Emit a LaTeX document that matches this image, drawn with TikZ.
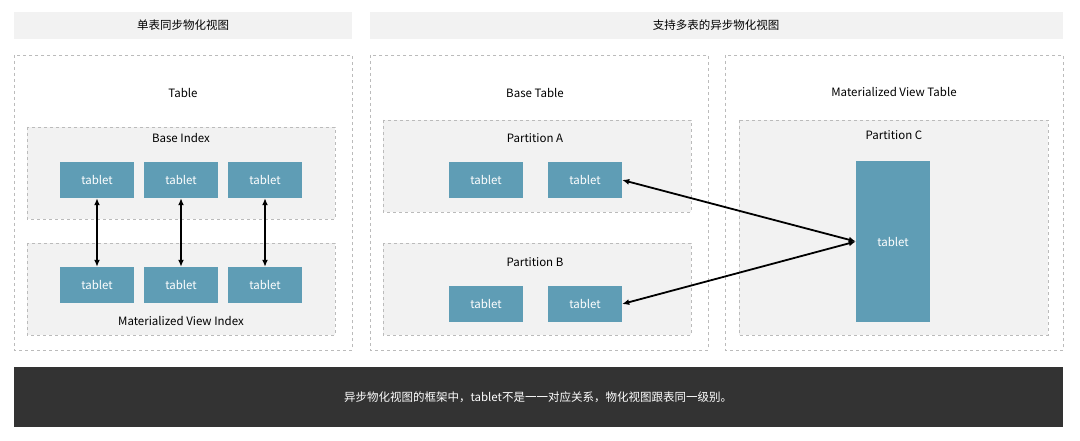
\documentclass[tikz,border=0pt]{standalone}
\usepackage{fontspec}
\setmainfont{Noto Sans CJK SC}
\usetikzlibrary{arrows.meta}
\definecolor{tab}{HTML}{5F9DB5}
\definecolor{lg}{HTML}{F2F2F2}
\definecolor{dk}{HTML}{333333}
\definecolor{dash}{HTML}{BBBBBB}
\tikzset{
 x=1pt,y=-1pt,
 txt/.style={font=\fontsize{11.5}{13}\selectfont,inner sep=0},
 outer/.style={draw=dash,dashed,line width=0.7pt},
 inner/.style={draw=dash,dashed,fill=lg,line width=0.7pt},
 tablet/.style={fill=tab,text=white,font=\fontsize{11.5}{13}\selectfont,inner sep=0,minimum width=74pt,minimum height=36pt},
 link/.style={{Latex[length=7pt,width=6pt]}-{Latex[length=7pt,width=6pt]},line width=1.8pt}
}
\begin{document}
\begin{tikzpicture}
\useasboundingbox (0,0) rectangle (1080,441);
\fill[white] (0,0) rectangle (1080,441);
% headers
\fill[lg] (14,12) rectangle (352,39);
\node[txt] (h1) at (183,25.5) {单表同步物化视图};
\fill[lg] (370,12) rectangle (1063,39);
\node[txt] (h2) at (716,25.5) {支持多表的异步物化视图};
% left
\draw[outer] (14,55) rectangle (352,350);
\node[txt] (t1) at (183,93) {Table};
\draw[inner] (27,127) rectangle (335,219);
\node[txt] (bi) at (181,138) {Base Index};
\draw[inner] (27,243) rectangle (335,335);
\node[txt] (mi) at (181,321) {Materialized View Index};
\foreach \i/\x in {1/97,2/181,3/265}{
 \node[tablet] (a\i) at (\x,180) {tablet};
 \node[tablet] (b\i) at (\x,285) {tablet};
 \draw[link] (a\i.south) -- (b\i.north);
}
% middle
\draw[outer] (370,55) rectangle (708,350);
\node[txt] (t2) at (535,93) {Base Table};
\draw[inner] (383,120) rectangle (691,212);
\node[txt] (pa) at (535,138) {Partition A};
\draw[inner] (383,243) rectangle (691,335);
\node[txt] (pb) at (535,262) {Partition B};
\node[tablet] (pa1) at (486,180) {tablet};
\node[tablet] (pa2) at (585,180) {tablet};
\node[tablet] (pb1) at (486,304) {tablet};
\node[tablet] (pb2) at (585,304) {tablet};
% right
\draw[outer] (725,55) rectangle (1063,350);
\node[txt] (t3) at (894,92) {Materialized View Table};
\draw[inner] (739,120) rectangle (1048,335);
\node[txt] (pc) at (894,135) {Partition C};
\node[tablet,minimum height=161pt] (c) at (893,241.5) {tablet};
\coordinate (cl) at (c.west);
\draw[link] (pa2.east) -- (cl);
\draw[link] (pb2.east) -- (cl);
% bottom
\fill[dk] (14,367) rectangle (1063,427);
\node[txt,text=white] (note) at (538,397) {异步物化视图的框架中，tablet不是一一对应关系，物化视图跟表同一级别。};
\end{tikzpicture}
\end{document}
